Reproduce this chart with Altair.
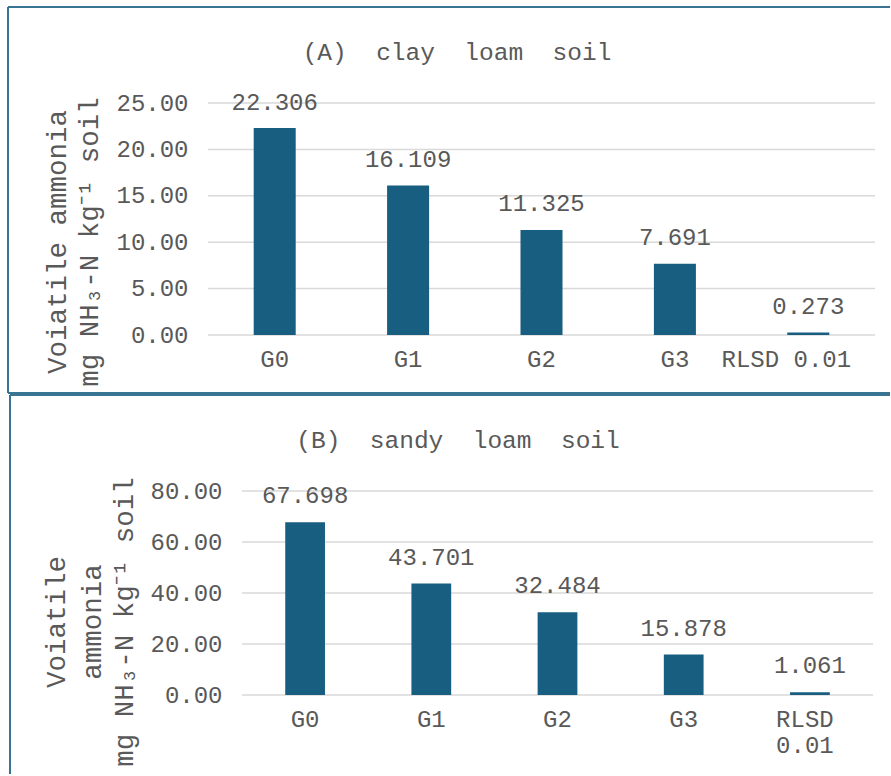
import altair as alt
import pandas as pd

# ---- data ----
categories = ["G0", "G1", "G2", "G3", "RLSD 0.01"]
clay_values = [22.306, 16.109, 11.325, 7.691, 0.273]
sandy_values = [67.698, 43.701, 32.484, 15.878, 1.061]
clay_ticks = [0, 5, 10, 15, 20, 25]
sandy_ticks = [0, 20, 40, 60, 80]
NB = "\u00a0"
title_a = "(A)" + NB * 2 + "clay" + NB * 2 + "loam" + NB * 2 + "soil"
title_b = "(B)" + NB * 2 + "sandy" + NB * 2 + "loam" + NB * 2 + "soil"
ytitle_a = ["Voiatile ammonia", "mg NH₃-N kg⁻¹ soil"]
ytitle_b = ["Voiatile", "ammonia", "mg NH₃-N kg⁻¹ soil"]

FONT = "Liberation Mono"
BAR = "#185E80"
TXT = "#595959"
GRID = "#D9D9D9"
BORDER = "#3A7493"


def panel(values, ticks, ymax, title, ytitle, w, h, x0, title_pos, ytitle_xs, ytitle_y,
          border_lines, wrap_rlsd, rlsd_offset, dy):
    """x0: left pixel of the bar area inside the panel's view (both views share one origin)."""
    df = pd.DataFrame({"cat": categories, "val": values})
    tdf = pd.DataFrame({"tick": ticks})
    if wrap_rlsd:
        lexpr = "datum.label == 'RLSD 0.01' ? ['RLSD', '0.01'] : datum.label"
    else:
        lexpr = "datum.label"
    x_axis = alt.Axis(
        labelAngle=0, domain=False, ticks=False, grid=False,
        labelFont=FONT, labelFontSize=24, labelColor=TXT, labelPadding=12,
        labelLineHeight=26, labelExpr=lexpr,
        labelOffset={"condition": {"test": "datum.value == 'RLSD 0.01'", "value": rlsd_offset}, "value": 0},
    )
    y_axis = alt.Axis(
        values=ticks, format=".2f", domain=False, ticks=False, grid=False,
        labelFont=FONT, labelFontSize=24, labelColor=TXT, labelPadding=20,
        offset=-x0,
    )
    x = alt.X("cat:N", sort=categories, title=None,
              scale=alt.Scale(range=[x0, w], paddingInner=0.685, paddingOuter=0.3425),
              axis=x_axis)
    y = alt.Y("val:Q", scale=alt.Scale(domain=[0, ymax], nice=False), title=None, axis=y_axis)

    grid = alt.Chart(tdf).mark_rule(color=GRID, strokeWidth=1.5).encode(
        y=alt.Y("tick:Q"), x=alt.value(x0), x2=alt.value(w)
    )
    bars = alt.Chart(df).mark_bar(color=BAR).encode(x=x, y=y)
    labels = alt.Chart(df).mark_text(
        font=FONT, fontSize=24, color=TXT, baseline="alphabetic", dy=dy
    ).encode(
        x=alt.X("cat:N", sort=categories),
        y=alt.Y("val:Q"),
        text=alt.Text("val:Q", format=".3f"),
    )
    ttl = alt.Chart(pd.DataFrame({"t": [title]})).mark_text(
        font=FONT, fontSize=24.5, color=TXT, align="center", baseline="alphabetic"
    ).encode(text="t:N", x=alt.value(title_pos[0]), y=alt.value(title_pos[1]))

    ylayers = []
    for line, lx in zip(ytitle, ytitle_xs):
        ylayers.append(
            alt.Chart(pd.DataFrame({"t": [line]})).mark_text(
                font=FONT, fontSize=27.5, color=TXT, align="center",
                baseline="middle", angle=270
            ).encode(text="t:N", x=alt.value(lx), y=alt.value(ytitle_y))
        )

    one = pd.DataFrame({"k": [0]})
    lines = []
    for (x1, y1, x2, y2) in border_lines:
        lines.append(
            alt.Chart(one).mark_rule(color=BORDER, strokeWidth=2).encode(
                x=alt.value(x1), x2=alt.value(x2), y=alt.value(y1), y2=alt.value(y2)
            )
        )
    return alt.layer(grid, bars, labels, ttl, *ylayers, *lines).properties(width=w, height=h)


# shared view origin at screen x=208; panel A top at 103, panel B top at 491
chart_a = panel(
    clay_values, clay_ticks, 25, title_a, ytitle_a, 667, 232, 0,
    title_pos=(249, -43), ytitle_xs=[-150, -118], ytitle_y=139,
    border_lines=[(-200, -96, 682, -96), (-200, -96, -200, 290), (-200, 290, 682, 290)],
    wrap_rlsd=False, rlsd_offset=-22, dy=-18.5,
)

chart_b = panel(
    sandy_values, sandy_ticks, 80, title_b, ytitle_b, 665, 204, 34,
    title_pos=(250, -43), ytitle_xs=[-151, -115, -83], ytitle_y=131,
    border_lines=[(-198, -96, 682, -96), (-198, -96, -198, 283)],
    wrap_rlsd=True, rlsd_offset=-5, dy=-19,
)

chart = alt.vconcat(chart_a, chart_b, spacing=0).properties(
    padding={"left": 7, "top": 6, "right": 0, "bottom": 0},
    background="white",
).configure_view(stroke=None)

chart.save("out.html", embed_options={"renderer": "svg", "actions": False})
